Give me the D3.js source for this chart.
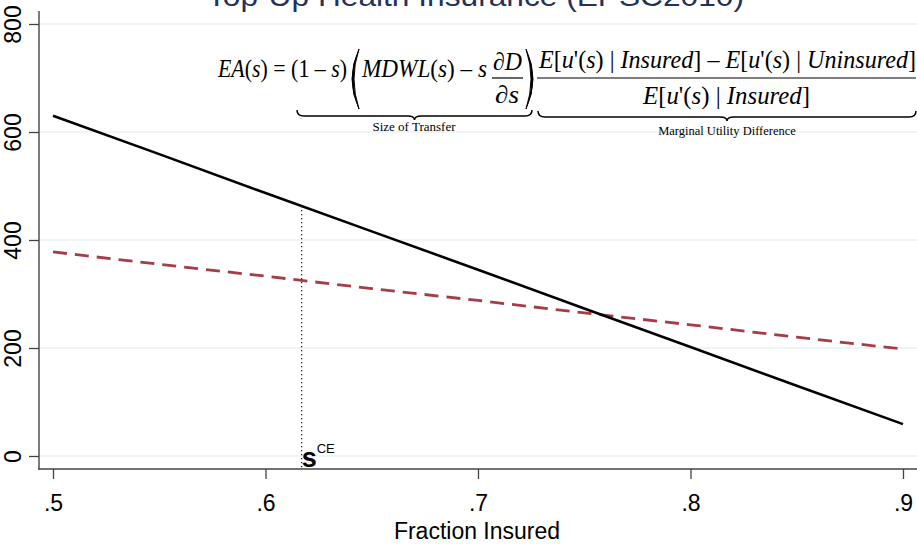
<!DOCTYPE html>
<html><head><meta charset="utf-8">
<script src="https://cdn.jsdelivr.net/npm/d3@7"></script>
<style>
html,body{margin:0;padding:0;background:#fff;}
svg{display:block;}
</style></head>
<body>
<svg id="chart" width="917" height="544"></svg>
<script>
// ---- data ----
const fractionInsured = [0.5, 0.55, 0.6, 0.65, 0.7, 0.75, 0.8, 0.85, 0.9];
const eaValues        = [630, 559, 487, 416, 345, 273, 202, 130, 59];
const costValues      = [378, 355, 333, 310, 288, 265, 243, 220, 198];
const xTicks = [0.5, 0.6, 0.7, 0.8, 0.9];
const xTickLabels = [".5", ".6", ".7", ".8", ".9"];
const yTicks = [0, 200, 400, 600, 800];
const sCE = 0.617;
const titleText = "Top-Up Health Insurance (EPSC2010)";
const xTitle = "Fraction Insured";

const svg = d3.select("#chart");
const W = 917, H = 544;
const x = d3.scaleLinear().domain([0.5, 0.9]).range([53, 903]);
const y = d3.scaleLinear().domain([0, 800]).range([456, 24]);
const axisY = 469, axisX = 39;
const sans = "'Liberation Sans', Arial, sans-serif";
const serif = "'Liberation Serif', 'Times New Roman', serif";

// title (clipped at top)
svg.append("text").attr("x", 207).attr("y", 6)
  .attr("font-family", sans).attr("font-size", 27).attr("fill", "#243158")
  .attr("textLength", 537).attr("lengthAdjust", "spacingAndGlyphs")
  .text(titleText);

// gridlines
svg.append("g").selectAll("line").data(yTicks).join("line")
  .attr("x1", axisX + 1).attr("x2", W)
  .attr("y1", d => y(d)).attr("y2", d => y(d))
  .attr("stroke", "#eaf2f3").attr("stroke-width", 1.6);

// y axis
const gy = svg.append("g").attr("transform", `translate(${axisX},0)`)
  .call(d3.axisLeft(y).tickValues(yTicks).tickSize(10).tickSizeOuter(0).tickFormat(d3.format("d")));
gy.select(".domain").remove();
gy.selectAll(".tick line").attr("stroke", "#444").attr("stroke-width", 1.3);
gy.selectAll(".tick text")
  .attr("x", 0).attr("y", 0).attr("dy", 0)
  .attr("transform", "translate(-18,0) rotate(-90)")
  .attr("text-anchor", "middle")
  .attr("font-family", sans).attr("font-size", 23).attr("fill", "#000");
svg.append("line").attr("x1", axisX).attr("x2", axisX)
  .attr("y1", 11).attr("y2", axisY + 0.7)
  .attr("stroke", "#444").attr("stroke-width", 1.4);

// x axis
const gx = svg.append("g").attr("transform", `translate(0,${axisY})`)
  .call(d3.axisBottom(x).tickValues(xTicks).tickSize(10).tickSizeOuter(0)
    .tickFormat((d, i) => xTickLabels[i]));
gx.select(".domain").remove();
gx.selectAll(".tick line").attr("stroke", "#444").attr("stroke-width", 1.3);
gx.selectAll(".tick text").attr("y", 42).attr("dy", 0)
  .attr("font-family", sans).attr("font-size", 23).attr("fill", "#000");
svg.append("line").attr("x1", axisX - 0.7).attr("x2", W)
  .attr("y1", axisY).attr("y2", axisY)
  .attr("stroke", "#444").attr("stroke-width", 1.4);

svg.append("text").attr("x", 477).attr("y", 539).attr("text-anchor", "middle")
  .attr("font-family", sans).attr("font-size", 23).attr("fill", "#000")
  .text(xTitle);

// lines
const line = d3.line().x(d => x(d[0])).y(d => y(d[1]));
svg.append("path")
  .datum(fractionInsured.map((f, i) => [f, costValues[i]]))
  .attr("d", line).attr("fill", "none")
  .attr("stroke", "#a53c46").attr("stroke-width", 2.8)
  .attr("stroke-dasharray", "14,8");
svg.append("path")
  .datum(fractionInsured.map((f, i) => [f, eaValues[i]]))
  .attr("d", line).attr("fill", "none")
  .attr("stroke", "#000").attr("stroke-width", 2.6);

// s_CE marker
const eaAtS = d3.scaleLinear().domain(fractionInsured).range(eaValues)(sCE);
svg.append("line").attr("x1", x(sCE)).attr("x2", x(sCE))
  .attr("y1", y(eaAtS)).attr("y2", axisY)
  .attr("stroke", "#222").attr("stroke-width", 1.3).attr("stroke-dasharray", "1.3,2.7");
const sl = svg.append("text").attr("x", x(sCE)).attr("y", 467)
  .attr("font-family", sans).attr("fill", "#000");
sl.append("tspan").attr("font-size", 27).attr("font-weight", "bold").text("s");
sl.append("tspan").attr("font-size", 13).attr("dy", -14).attr("dx", 0).text("CE");

// ---- formula ----
const fg = svg.append("g").attr("font-family", serif).attr("fill", "#000").attr("font-size", 25);
function mathText(xp, yp, parts, len, anchor) {
  const t = fg.append("text").attr("x", xp).attr("y", yp);
  if (anchor) t.attr("text-anchor", anchor);
  parts.forEach(p => t.append("tspan").attr("font-style", p[1] ? "italic" : "normal").text(p[0]));
  if (len) t.attr("textLength", len).attr("lengthAdjust", "spacingAndGlyphs");
  return t;
}
mathText(218, 77, [["EA", 1], ["(", 0], ["s", 1], [") = (1 \u2013 ", 0], ["s", 1], [")", 0]], 129);
mathText(362, 77, [["MDWL", 1], ["(", 0], ["s", 1], [") \u2013 ", 0], ["s", 1]], 125);
mathText(493, 70, [["\u2202", 0], ["D", 1]], 29);
mathText(495, 103, [["\u2202", 0], ["s", 1]], 24);
fg.append("line").attr("x1", 492).attr("x2", 523).attr("y1", 78).attr("y2", 78)
  .attr("stroke", "#000").attr("stroke-width", 1.2);
// big parentheses
fg.append("path").attr("d", "M359,49 Q345,79 359,109 Q349,79 359,49 Z")
  .attr("fill", "#000").attr("stroke", "#000").attr("stroke-width", 1);
fg.append("path").attr("d", "M526,49 Q540,79 526,109 Q536,79 526,49 Z")
  .attr("fill", "#000").attr("stroke", "#000").attr("stroke-width", 1);
// big fraction
mathText(539, 68, [["E", 1], ["[", 0], ["u", 1], ["'(", 0], ["s", 1], [") | ", 0], ["Insured", 1],
  ["] \u2013 ", 0], ["E", 1], ["[", 0], ["u", 1], ["'(", 0], ["s", 1], [") | ", 0], ["Uninsured", 1], ["]", 0]], 377);
fg.append("line").attr("x1", 537).attr("x2", 916).attr("y1", 78).attr("y2", 78)
  .attr("stroke", "#000").attr("stroke-width", 1.2);
mathText(643, 104, [["E", 1], ["[", 0], ["u", 1], ["'(", 0], ["s", 1], [") | ", 0], ["Insured", 1], ["]", 0]], 167);
// underbraces
function brace(x1, x2, top) {
  const m = (x1 + x2) / 2, b = top + 6, tip = top + 10;
  const d = `M${x1},${top} Q${x1},${b} ${x1 + 7},${b} L${m - 7},${b} Q${m},${b} ${m},${tip} ` +
            `Q${m},${b} ${m + 7},${b} L${x2 - 7},${b} Q${x2},${b} ${x2},${top}`;
  fg.append("path").attr("d", d).attr("fill", "none").attr("stroke", "#000").attr("stroke-width", 1.5);
}
brace(297, 532, 110);
brace(538, 916, 111);
fg.append("text").attr("x", 414).attr("y", 131).attr("text-anchor", "middle")
  .attr("font-size", 13).text("Size of Transfer");
fg.append("text").attr("x", 727).attr("y", 135).attr("text-anchor", "middle")
  .attr("font-size", 12.5).text("Marginal Utility Difference");
</script>
</body></html>
